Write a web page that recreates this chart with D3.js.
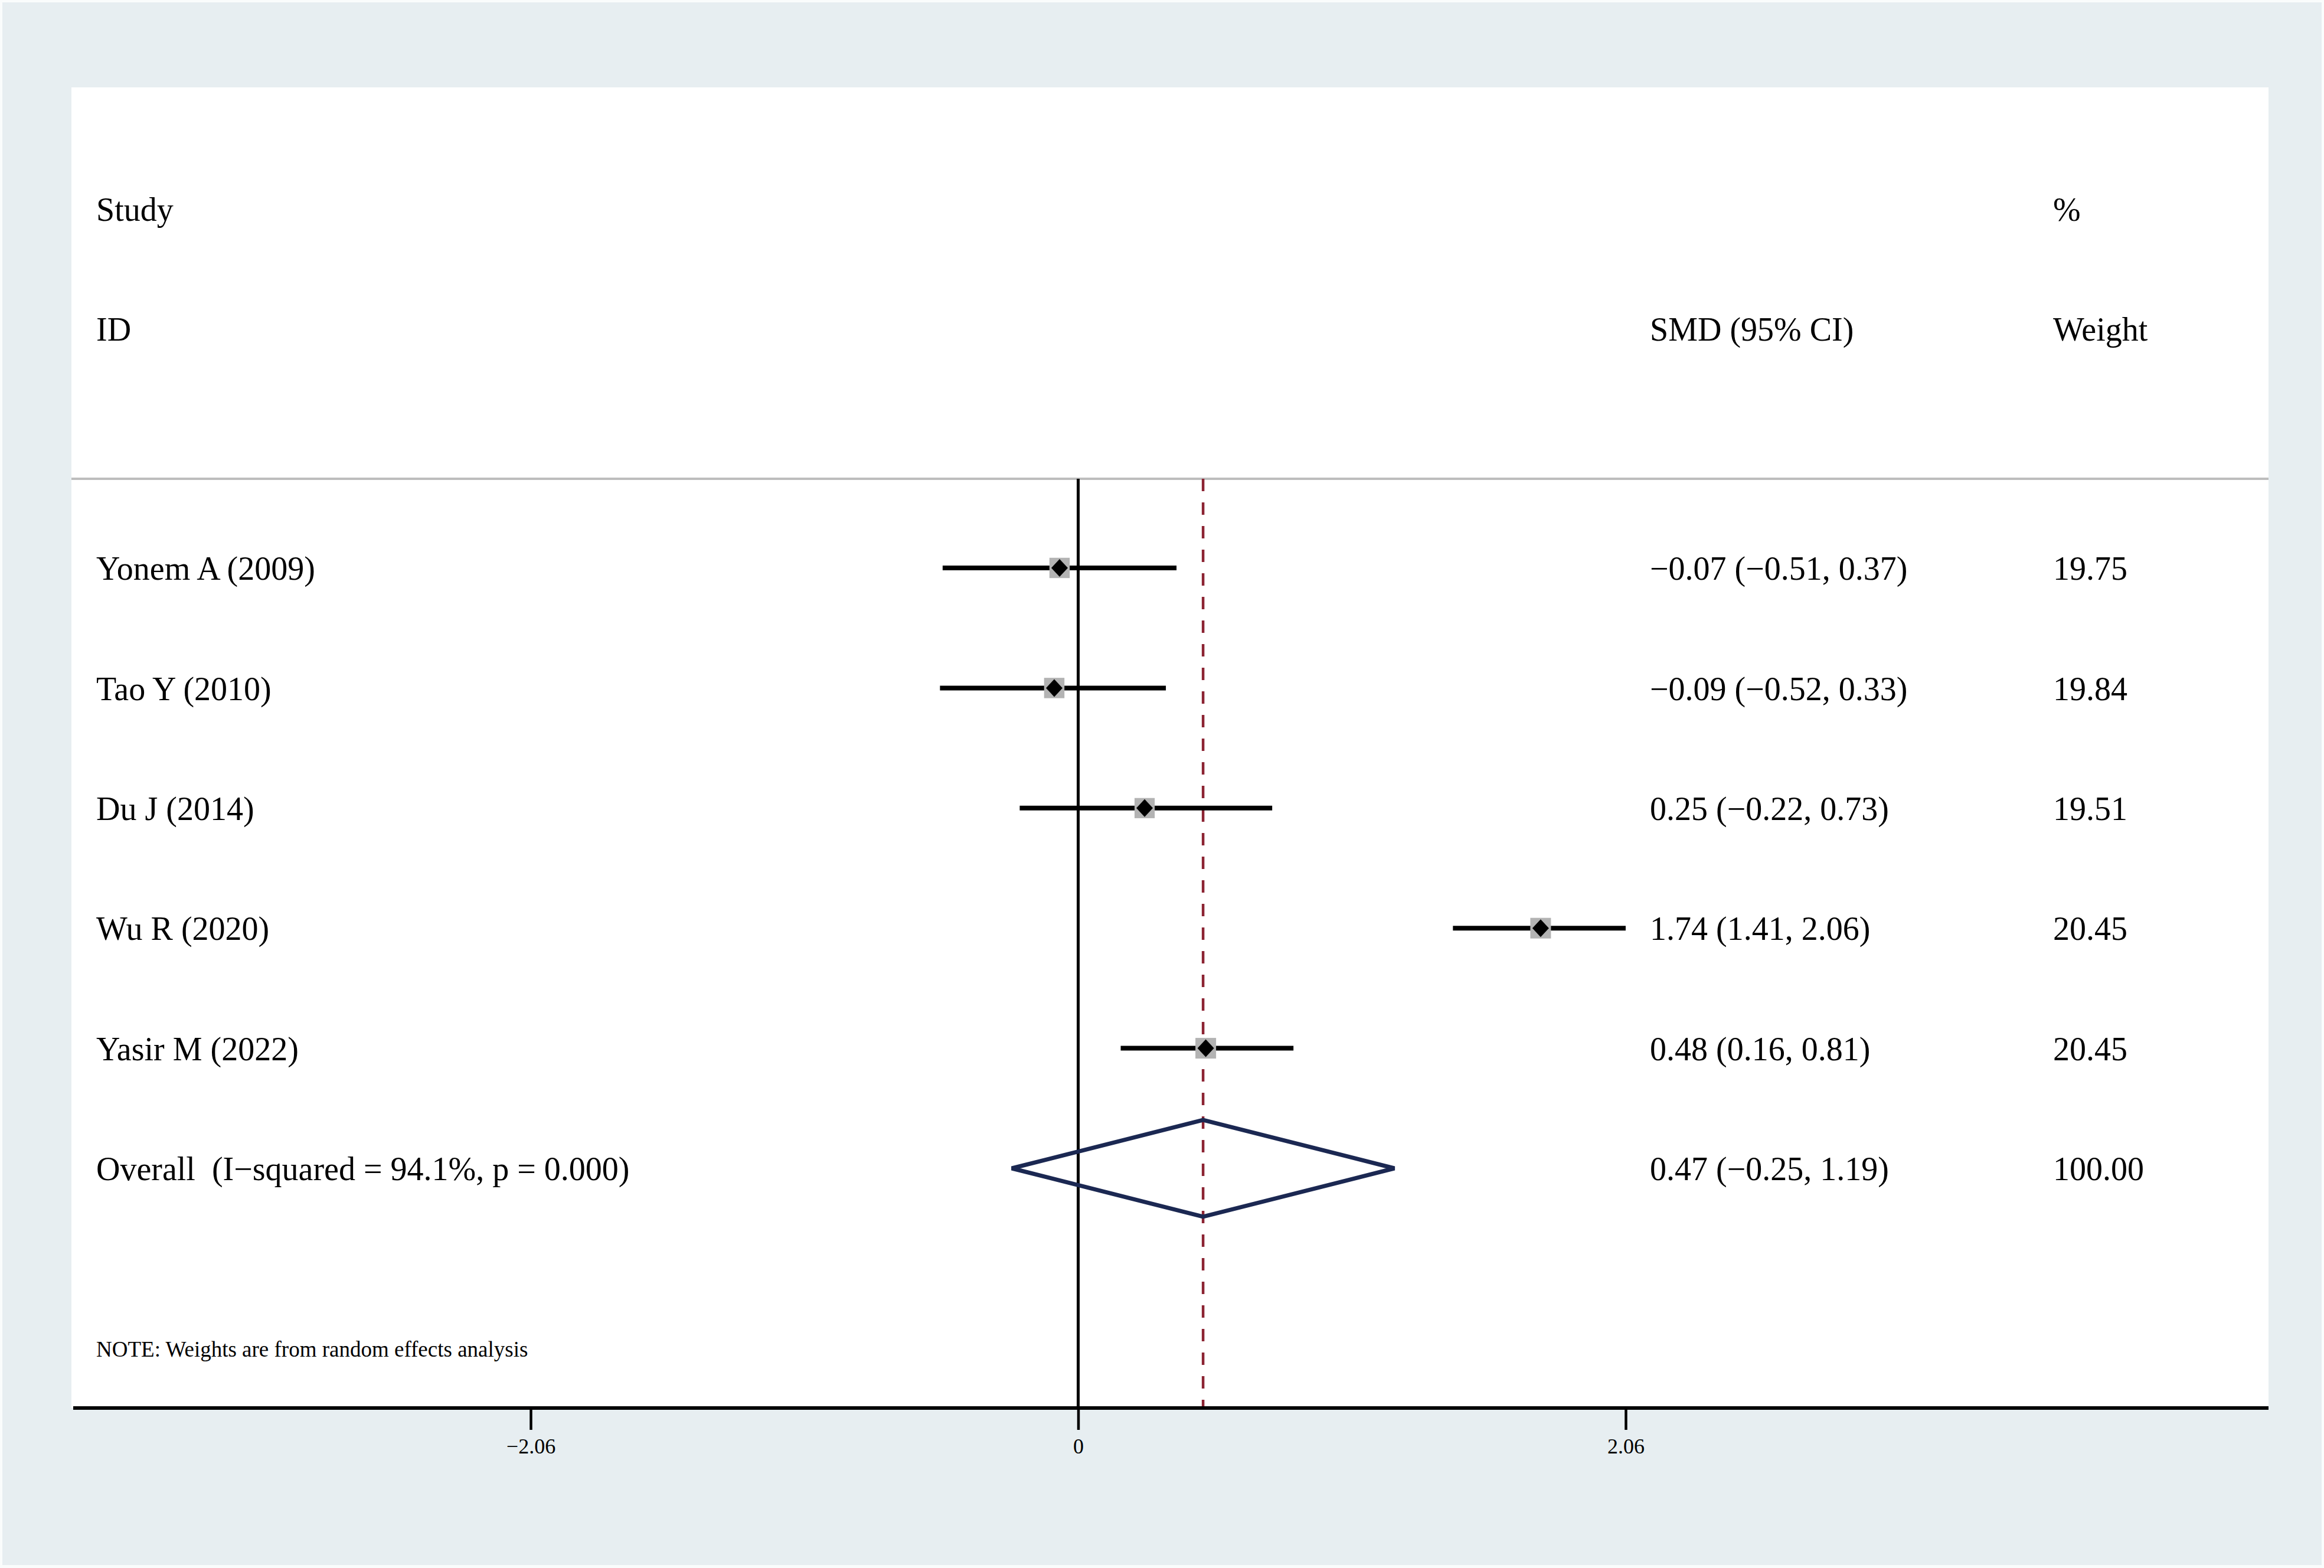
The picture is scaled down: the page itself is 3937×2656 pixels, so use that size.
<!DOCTYPE html>
<html lang="en">
<head>
  <meta charset="UTF-8">
  <title>Forest plot with D3.js</title>
  <script src="https://d3js.org/d3.v7.min.js"></script>
  <style>
    body { margin: 0; background: #fafcfc; }
    text { font-family: "Liberation Serif", "Times New Roman", serif; fill: #000; white-space: pre; }
  </style>
</head>
<body>
  <svg width="3937" height="2656"></svg>

  <script>
    // Study data
    const studies = ["Yonem A (2009)", "Tao Y (2010)", "Du J (2014)", "Wu R (2020)", "Yasir M (2022)"];
    const smd = [-0.07, -0.09, 0.25, 1.74, 0.48];
    const lower = [-0.51, -0.52, -0.22, 1.41, 0.16];
    const upper = [0.37, 0.33, 0.73, 2.06, 0.81];
    const weights = [19.75, 19.84, 19.51, 20.45, 20.45];

    // Pooled estimate
    const overallLabel = "Overall  (I\u2212squared = 94.1%, p = 0.000)";
    const overallSmd = 0.47, overallLower = -0.25, overallUpper = 1.19, overallWeight = 100.00;

    const xTicks = [-2.06, 0, 2.06];

    const rows = studies.map((s, i) => ({
      label: s, est: smd[i], lo: lower[i], hi: upper[i], w: weights[i]
    }));

    const fmt = v => (v < 0 ? "\u2212" : "") + Math.abs(v).toFixed(2);
    const ciText = d => `${fmt(d.est)} (${fmt(d.lo)}, ${fmt(d.hi)})`;

    const svg = d3.select("svg");

    // Panel layout
    const panel = { left: 121, top: 148, right: 3843, bottom: 2385 };

    svg.append("rect")
      .attr("x", 4).attr("y", 4)
      .attr("width", 3929).attr("height", 2647)
      .attr("fill", "#e7eef1");

    svg.append("rect")
      .attr("x", panel.left).attr("y", panel.top)
      .attr("width", panel.right - panel.left)
      .attr("height", panel.bottom - panel.top)
      .attr("fill", "#fff");

    // Scales
    const x = d3.scaleLinear()
      .domain([-2.06, 2.06])
      .range([899, 2754]);

    const y = d3.scalePoint()
      .domain([...studies, overallLabel])
      .range([962, 1979]);

    const boxSize = d3.scaleSqrt()
      .domain([0, 20.45])
      .range([0, 35]);

    const colStudy = 163, colCI = 2795, colW = 3478;
    const fs = 56;

    // Header
    const header = svg.append("g").style("font-size", fs + "px");
    [["Study", colStudy, 354], ["ID", colStudy, 557], ["%", colW, 354],
     ["SMD (95% CI)", colCI, 557], ["Weight", colW, 557]].forEach(([t, tx, ty]) => {
      header.append("text").attr("x", tx).attr("y", ty).attr("dy", "0.36em").text(t);
    });

    svg.append("line")
      .attr("x1", panel.left).attr("x2", panel.right)
      .attr("y1", 811).attr("y2", 811)
      .attr("stroke", "#bdbdbd").attr("stroke-width", 4);

    // Null line and overall line
    svg.append("line")
      .attr("x1", x(0)).attr("x2", x(0))
      .attr("y1", 811).attr("y2", panel.bottom)
      .attr("stroke", "#000").attr("stroke-width", 5);

    svg.append("line")
      .attr("x1", x(overallSmd)).attr("x2", x(overallSmd))
      .attr("y1", 811).attr("y2", panel.bottom)
      .attr("stroke", "#8c2433").attr("stroke-width", 4.5)
      .attr("stroke-dasharray", "21,19");

    // Study rows
    const g = svg.append("g");

    g.selectAll(".ci")
      .data(rows)
      .enter().append("line")
      .attr("class", "ci")
      .attr("x1", d => x(d.lo)).attr("x2", d => x(d.hi))
      .attr("y1", d => y(d.label)).attr("y2", d => y(d.label))
      .attr("stroke", "#000").attr("stroke-width", 8);

    g.selectAll(".box")
      .data(rows)
      .enter().append("rect")
      .attr("class", "box")
      .attr("x", d => x(d.est) - boxSize(d.w) / 2)
      .attr("y", d => y(d.label) - boxSize(d.w) / 2)
      .attr("width", d => boxSize(d.w))
      .attr("height", d => boxSize(d.w))
      .attr("fill", "#b3b3b3");

    g.selectAll(".pt")
      .data(rows)
      .enter().append("path")
      .attr("class", "pt")
      .attr("d", d => {
        const cx = x(d.est), cy = y(d.label);
        return `M${cx},${cy - 15}L${cx + 14},${cy}L${cx},${cy + 15}L${cx - 14},${cy}Z`;
      })
      .attr("fill", "#000");

    // Overall diamond
    const oy = y(overallLabel);
    svg.append("path")
      .attr("d", `M${x(overallLower)},${oy}L${x(overallSmd)},${oy - 82}L${x(overallUpper)},${oy}L${x(overallSmd)},${oy + 82}Z`)
      .attr("fill", "none")
      .attr("stroke", "#1b2852")
      .attr("stroke-width", 7)
      .attr("stroke-linejoin", "miter");

    // Row text
    const txt = svg.append("g").style("font-size", fs + "px");
    const allRows = [...rows, { label: overallLabel, est: overallSmd, lo: overallLower, hi: overallUpper, w: overallWeight }];

    txt.selectAll(".lab").data(allRows).enter().append("text")
      .attr("x", colStudy).attr("y", d => y(d.label)).attr("dy", "0.36em")
      .text(d => d.label);

    txt.selectAll(".est").data(allRows).enter().append("text")
      .attr("x", colCI).attr("y", d => y(d.label)).attr("dy", "0.36em")
      .text(ciText);

    txt.selectAll(".wt").data(allRows).enter().append("text")
      .attr("x", colW).attr("y", d => y(d.label)).attr("dy", "0.36em")
      .text(d => d.w.toFixed(2));

    svg.append("text")
      .attr("x", colStudy).attr("y", 2285).attr("dy", "0.35em")
      .style("font-size", "37px")
      .text("NOTE: Weights are from random effects analysis");

    // X axis
    const xAxis = d3.axisBottom(x)
      .tickValues(xTicks)
      .tickSize(37)
      .tickPadding(14)
      .tickFormat(d => d === 0 ? "0" : fmt(d));

    const ax = svg.append("g")
      .attr("transform", `translate(0,${panel.bottom})`)
      .call(xAxis);

    ax.select(".domain").remove();
    ax.append("line")
      .attr("x1", 124).attr("x2", panel.right)
      .attr("y1", 0).attr("y2", 0)
      .attr("stroke", "#000").attr("stroke-width", 6);
    ax.selectAll(".tick line").attr("stroke", "#000").attr("stroke-width", 4.5);
    ax.selectAll(".tick text")
      .style("font-family", "'Liberation Serif', 'Times New Roman', serif")
      .style("font-size", "36px")
      .attr("fill", "#000");
  </script>
</body>
</html>
